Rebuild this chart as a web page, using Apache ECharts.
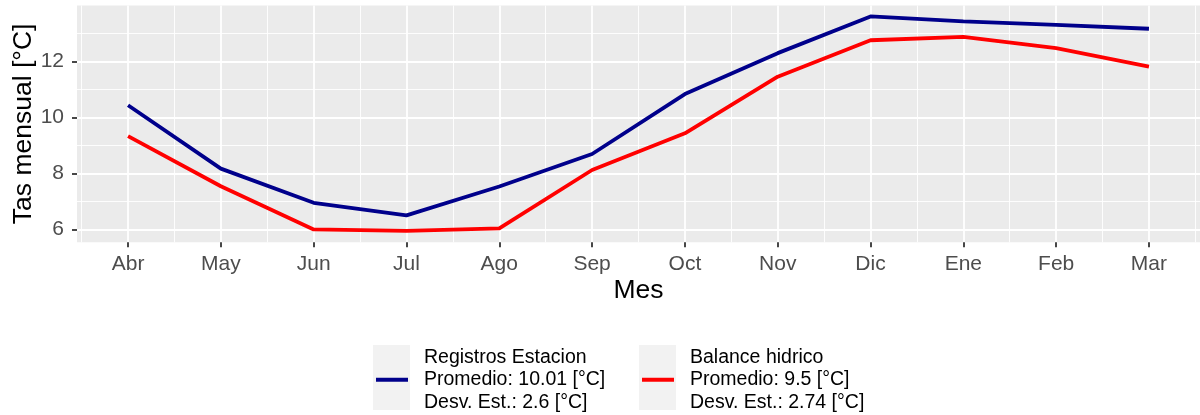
<!DOCTYPE html>
<html>
<head>
<meta charset="utf-8">
<script src="https://cdn.jsdelivr.net/npm/echarts@6/dist/echarts.min.js"></script>
<style>
  html, body { margin: 0; padding: 0; background: #fff; }
  #chart { width: 1200px; height: 415px; }
</style>
</head>
<body>
<div id="chart"></div>
<script>
// Monthly mean temperature, hydrological year April–March
const months = ['Abr', 'May', 'Jun', 'Jul', 'Ago', 'Sep', 'Oct', 'Nov', 'Dic', 'Ene', 'Feb', 'Mar'];
const estacion = [10.44, 8.18, 6.96, 6.51, 7.54, 8.70, 10.84, 12.30, 13.61, 13.43, 13.31, 13.17];
const balance = [9.34, 7.55, 6.01, 5.96, 6.05, 8.13, 9.44, 11.46, 12.76, 12.88, 12.48, 11.82];
const seriesNames = ['Registros Estacion', 'Balance hidrico'];
const promedios = ['10.01', '9.5'];
const desvios = ['2.6', '2.74'];
const yTicks = [6, 8, 10, 12];

const FONT = 'Liberation Sans, Arial, sans-serif';
const chart = echarts.init(document.getElementById('chart'), null, { renderer: 'canvas' });

// Fine-step axes so minor grid lines land on half months / odd degrees;
// a repeating colour pattern keeps only those lines visible.
const X_MIN = -0.55, X_MAX = 11.55, X_STEP = 0.05;
const Y_MIN = 5.55, Y_MAX = 14, Y_STEP = 0.05;

function pattern(period, idx) {
  const arr = [];
  for (let i = 0; i < period; i++) arr.push(i === idx ? '#ffffff' : 'rgba(0,0,0,0)');
  return arr;
}
const xMinorColors = pattern(20, 1);  // half-way between months
const yMinorColors = pattern(40, 29); // 7, 9, 11, 13

const isInt = v => Math.abs(v - Math.round(v)) < 1e-6;
const monthIdx = months.map((m, i) => i);

function legendText(i) {
  return seriesNames[i] + '\nPromedio: ' + promedios[i] + ' [°C]\nDesv. Est.: ' + desvios[i] + ' [°C]';
}

const legendCommon = {
  orient: 'vertical',
  padding: 0,
  icon: 'rect',
  itemWidth: 32,
  itemHeight: 4,
  selectedMode: false,
  textStyle: { fontFamily: FONT, fontSize: 19.5, color: '#000', lineHeight: 22.5, padding: [0, 0, 0, 11] },
  formatter: name => legendText(seriesNames.indexOf(name))
};

const option = {
  animation: false,
  backgroundColor: '#ffffff',
  grid: {
    left: 77, top: 5.5, width: 1123, height: 236.8,
    containLabel: false, outerBoundsMode: 'none',
    show: true, backgroundColor: '#EBEBEB', borderWidth: 0
  },
  xAxis: [
    {
      type: 'value', min: X_MIN, max: X_MAX, interval: X_STEP,
      name: 'Mes', nameLocation: 'middle', nameGap: 35, nameMoveOverlap: false,
      nameTextStyle: { fontFamily: FONT, fontSize: 26.5, color: '#000' },
      axisLine: { show: false, onZero: false },
      axisTick: { show: true, customValues: monthIdx, length: 5, lineStyle: { color: '#333333', width: 1.8 } },
      axisLabel: {
        customValues: monthIdx, margin: 11, fontFamily: FONT, fontSize: 21, color: '#4D4D4D',
        formatter: v => isInt(v) ? (months[Math.round(v)] || '') : ''
      },
      splitLine: { show: true, lineStyle: { color: '#ffffff', width: 1.8 } }
    },
    {
      type: 'value', min: X_MIN, max: X_MAX, interval: X_STEP,
      axisLine: { show: false, onZero: false }, axisTick: { show: false }, axisLabel: { show: false },
      splitLine: { show: true, lineStyle: { color: xMinorColors, width: 0.9 } }
    }
  ],
  yAxis: [
    {
      type: 'value', min: Y_MIN, max: Y_MAX, interval: Y_STEP,
      name: 'Tas mensual [°C]', nameLocation: 'middle', nameGap: 40, nameMoveOverlap: false,
      nameTextStyle: { fontFamily: FONT, fontSize: 26.5, color: '#000' },
      axisLine: { show: false, onZero: false },
      axisTick: { show: true, customValues: yTicks, length: 5, lineStyle: { color: '#333333', width: 1.8 } },
      axisLabel: {
        customValues: yTicks, margin: 13, fontFamily: FONT, fontSize: 21, color: '#4D4D4D',
        formatter: v => (isInt(v) && Math.round(v) % 2 === 0) ? String(Math.round(v)) : ''
      },
      splitLine: { show: true, lineStyle: { color: '#ffffff', width: 1.8 } }
    },
    {
      type: 'value', min: Y_MIN, max: Y_MAX, interval: Y_STEP,
      axisLine: { show: false, onZero: false }, axisTick: { show: false }, axisLabel: { show: false },
      splitLine: { show: true, lineStyle: { color: yMinorColors, width: 0.9 } }
    }
  ],
  legend: [
    Object.assign({}, legendCommon, { data: [seriesNames[0]], left: 376, top: 346 }),
    Object.assign({}, legendCommon, { data: [seriesNames[1]], left: 642, top: 346 })
  ],
  graphic: [
    { type: 'rect', z: 0, shape: { x: 373, y: 345, width: 37, height: 65 }, style: { fill: '#F2F2F2' } },
    { type: 'rect', z: 0, shape: { x: 639, y: 345, width: 37, height: 65 }, style: { fill: '#F2F2F2' } }
  ],
  series: [
    {
      name: seriesNames[0], type: 'line', xAxisIndex: 0, yAxisIndex: 0,
      data: estacion.map((v, i) => [i, v]),
      showSymbol: false, symbol: 'none', color: '#00008B',
      itemStyle: { color: '#00008B' },
      lineStyle: { color: '#00008B', width: 3.8 }, z: 3
    },
    {
      name: seriesNames[1], type: 'line', xAxisIndex: 0, yAxisIndex: 0,
      data: balance.map((v, i) => [i, v]),
      showSymbol: false, symbol: 'none', color: '#FF0000',
      itemStyle: { color: '#FF0000' },
      lineStyle: { color: '#FF0000', width: 3.8 }, z: 3
    }
  ]
};

chart.setOption(option);
</script>
</body>
</html>
